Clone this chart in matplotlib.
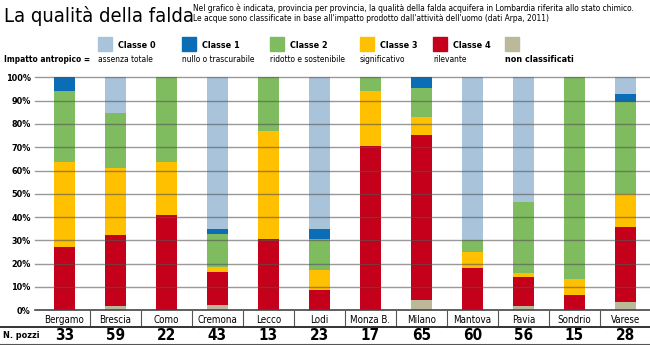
import numpy as np
import matplotlib.pyplot as plt
from matplotlib.transforms import blended_transform_factory
from matplotlib.patches import Rectangle

plt.rcParams['font.family'] = ['DejaVu Sans']
plt.rcParams['font.stretch'] = 'condensed'

provinces = ['Bergamo', 'Brescia', 'Como', 'Cremona', 'Lecco', 'Lodi',
             'Monza B.', 'Milano', 'Mantova', 'Pavia', 'Sondrio', 'Varese']
n_pozzi = [33, 59, 22, 43, 13, 23, 17, 65, 60, 56, 15, 28]

# numero di pozzi per classe (dal basso verso l'alto)
non_class = [0, 1, 0, 1, 0, 0, 0, 3, 0, 1, 0, 1]
classe4 = [9, 18, 9, 6, 4, 2, 12, 46, 11, 7, 1, 9]
classe3 = [12, 17, 5, 1, 6, 2, 4, 5, 4, 1, 1, 4]
classe2 = [10, 14, 8, 6, 3, 3, 1, 8, 3, 17, 13, 11]
classe1 = [2, 0, 0, 1, 0, 1, 0, 3, 0, 0, 0, 1]
classe0 = [0, 9, 0, 28, 0, 15, 0, 0, 42, 30, 0, 2]

series = [non_class, classe4, classe3, classe2, classe1, classe0]
colors = ['#bcb99a', '#c4001a', '#ffc000', '#7fbc5f', '#0a6db5', '#a9c4da']

legend_names = ['Classe 0', 'Classe 1', 'Classe 2', 'Classe 3', 'Classe 4', 'non classificati']
legend_desc = ['assenza totale', 'nullo o trascurabile', 'ridotto e sostenibile',
               'significativo', 'rilevante', '']
legend_colors = ['#a9c4da', '#0a6db5', '#7fbc5f', '#ffc000', '#c4001a', '#bcb99a']
legend_x = [98, 182, 270, 360, 433, 505]

W, H = 650, 345
fig = plt.figure(figsize=(6.5, 3.45), dpi=100)

def fx(px):
    return px / W

def fy(py):
    return 1 - py / H

ax = fig.add_axes([fx(39), fy(310.3), fx(612), (310.3 - 77.3) / H])

x = np.arange(len(provinces))
tot = np.array(n_pozzi, dtype=float)
bottom = np.zeros(len(provinces))
for s, c in zip(series, colors):
    pct = np.array(s) / tot * 100
    ax.bar(x, pct, 0.43, bottom=bottom, color=c, zorder=2)
    bottom += pct

ax.set_xlim(-0.5, 11.5)
ax.set_ylim(0, 100)
for v in range(10, 101, 10):
    ax.axhline(v, xmin=-0.007, xmax=1, color='#555555', alpha=0.6, lw=1,
               zorder=3, clip_on=False)
ax.axhline(0, xmin=-0.007, xmax=1, color='#444444', lw=1.2, zorder=3, clip_on=False)

for sp in ax.spines.values():
    sp.set_visible(False)
ax.set_xticks([])
ax.set_yticks(range(0, 101, 10))
ax.set_yticklabels([f'{v}%' for v in range(0, 101, 10)], fontsize=6.5,
                   fontweight='bold')
ax.tick_params(axis='y', length=0, pad=6)

# tabella in basso
tr = blended_transform_factory(ax.transData, fig.transFigure)
for i, p in enumerate(provinces):
    fig.text(i, fy(320), p, transform=tr, ha='center', va='center', fontsize=7)
    fig.text(i, fy(336), str(n_pozzi[i]), transform=tr, ha='center', va='center',
             fontsize=11, fontweight='bold')
for i in range(1, 12):
    fig.add_artist(plt.Line2D([i - 0.5, i - 0.5], [fy(310.5), fy(327)], transform=tr,
                              color='#555555', lw=0.8))
fig.add_artist(plt.Line2D([0, 1], [fy(327), fy(327)], color='#333333', lw=1.4))
fig.add_artist(plt.Line2D([0, 1], [fy(344.3), fy(344.3)], color='#555555', lw=0.8))
fig.text(fx(3), fy(336), 'N. pozzi', ha='left', va='center', fontsize=6.5,
         fontweight='bold')

# titolo e sottotitolo
fig.text(fx(4), fy(16), 'La qualità della falda', ha='left', va='center', fontsize=14.5)
fig.text(fx(193), fy(8.5), 'Nel grafico è indicata, provincia per provincia, la qualità della '
         'falda acquifera in Lombardia riferita allo stato chimico.',
         ha='left', va='center', fontsize=6)
fig.text(fx(193), fy(18.5), "Le acque sono classificate in base all'impatto prodotto "
         "dall'attività dell'uomo (dati Arpa, 2011)",
         ha='left', va='center', fontsize=6)

# legenda
fig.text(fx(4), fy(60), 'Impatto antropico =', ha='left', va='center', fontsize=6,
         fontweight='bold')
for name, desc, c, lx in zip(legend_names, legend_desc, legend_colors, legend_x):
    fig.add_artist(Rectangle((fx(lx), fy(51)), fx(14), 14 / H, color=c,
                             transform=fig.transFigure))
    if desc:
        fig.text(fx(lx + 20), fy(45), name, ha='left', va='center', fontsize=6.5,
                 fontweight='bold')
        fig.text(fx(lx), fy(60), desc, ha='left', va='center', fontsize=6)
    else:
        fig.text(fx(lx), fy(60), name, ha='left', va='center', fontsize=6.5,
                 fontweight='bold')

fig.savefig('out.png', dpi=100)
